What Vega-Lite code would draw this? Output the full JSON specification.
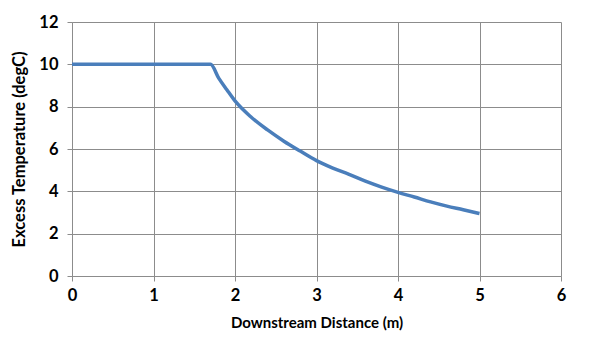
{
  "$schema": "https://vega.github.io/schema/vega-lite/v6.json",
  "autosize": "none",
  "width": 489,
  "height": 254,
  "padding": {"left": 72, "top": 22, "right": 30, "bottom": 80},
  "background": "white",
  "config": {
    "view": {"stroke": null},
    "font": "Lato"
  },
  "data": {
    "values": [
      {"d": 0, "t": 10},
      {"d": 1.7, "t": 10},
      {"d": 1.8, "t": 9.35},
      {"d": 1.9, "t": 8.8},
      {"d": 2.0, "t": 8.27},
      {"d": 2.2, "t": 7.5},
      {"d": 2.4, "t": 6.9},
      {"d": 2.6, "t": 6.37},
      {"d": 2.8, "t": 5.9},
      {"d": 3.0, "t": 5.45},
      {"d": 3.2, "t": 5.1},
      {"d": 3.4, "t": 4.8},
      {"d": 3.6, "t": 4.48},
      {"d": 3.8, "t": 4.2},
      {"d": 4.0, "t": 3.95},
      {"d": 4.2, "t": 3.73},
      {"d": 4.4, "t": 3.5},
      {"d": 4.6, "t": 3.3},
      {"d": 4.8, "t": 3.13},
      {"d": 5.0, "t": 2.95}
    ]
  },
  "mark": {"type": "line", "color": "#4a7ebb", "strokeWidth": 3.5, "interpolate": "monotone"},
  "encoding": {
    "x": {
      "field": "d", "type": "quantitative",
      "scale": {"domain": [0, 6], "nice": false},
      "axis": {
        "title": "Downstream Distance (m)",
        "values": [0, 1, 2, 3, 4, 5, 6],
        "labelFlush": false,
        "grid": true, "gridColor": "#8c8c8c", "gridOpacity": 1, "gridWidth": 1,
        "domainColor": "#8c8c8c", "tickColor": "#8c8c8c", "tickSize": 5,
        "labelFont": "Lato", "labelFontWeight": "bold", "labelFontSize": 16.5, "labelColor": "#000000",
        "labelPadding": 6,
        "titleFont": "Lato", "titleFontWeight": "bold", "titleFontSize": 15, "titleColor": "#000000",
        "titlePadding": 12
      }
    },
    "y": {
      "field": "t", "type": "quantitative",
      "scale": {"domain": [0, 12], "nice": false},
      "axis": {
        "title": "Excess Temperature (degC)",
        "values": [0, 2, 4, 6, 8, 10, 12],
        "labelFlush": false,
        "grid": true, "gridColor": "#8c8c8c", "gridOpacity": 1, "gridWidth": 1,
        "domainColor": "#8c8c8c", "tickColor": "#8c8c8c", "tickSize": 5,
        "labelFont": "Lato", "labelFontWeight": "bold", "labelFontSize": 16.5, "labelColor": "#000000",
        "labelPadding": 9,
        "titleFont": "Lato", "titleFontWeight": "bold", "titleFontSize": 16.5, "titleColor": "#000000",
        "titlePadding": 11
      }
    }
  }
}
